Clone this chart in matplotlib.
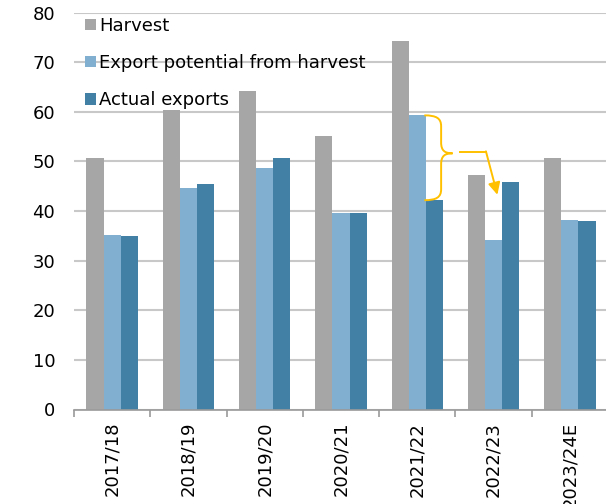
import numpy as np
import matplotlib
matplotlib.use('Agg')
import matplotlib.pyplot as plt
from matplotlib.path import Path
from matplotlib.patches import PathPatch

seasons = ['2017/18', '2018/19', '2019/20', '2020/21', '2021/22', '2022/23', '2023/24E']
harvest = [50.8, 60.3, 64.2, 55.2, 74.3, 47.2, 50.8]
export_potential = [35.1, 44.7, 48.6, 39.7, 59.3, 34.2, 38.3]
actual_exports = [35.0, 45.4, 50.8, 39.7, 42.2, 45.9, 38.0]

c_harvest = '#a6a6a6'
c_potential = '#80afcf'
c_actual = '#4380a6'
c_note = '#ffc000'
grid_c = '#c8c8c8'

plt.rcParams['font.family'] = 'DejaVu Sans'
plt.rcParams['font.size'] = 13

fig = plt.figure(figsize=(6.06, 5.04), dpi=100)
ax = fig.add_axes([74/606, (504-409.5)/504, 534/606, (409.5-12.7)/504])

x = np.arange(len(seasons))
w = 0.225
ax.bar(x - w, harvest, w, color=c_harvest, label='Harvest', zorder=3)
ax.bar(x, export_potential, w, color=c_potential, label='Export potential from harvest', zorder=3)
ax.bar(x + w, actual_exports, w, color=c_actual, label='Actual exports', zorder=3)

ax.set_xlim(-0.5, len(seasons) - 0.5)
ax.set_ylim(0, 80)
ax.set_yticks(np.arange(0, 81, 10))
ax.yaxis.grid(True, color=grid_c, linewidth=1.5, zorder=0)
ax.set_axisbelow(True)
ax.tick_params(axis='y', length=0, pad=13.5, labelsize=13)

ax.set_xticks(x)
ax.set_xticklabels(seasons, rotation=90, va='top', ha='center')
ax.set_xticks(np.arange(-0.5, len(seasons)), minor=True)
ax.tick_params(axis='x', which='major', length=0, pad=9, labelsize=13)
ax.tick_params(axis='x', which='minor', length=5, width=1.2, color='#9a9a9a')

for s in ['left', 'right', 'top']:
    ax.spines[s].set_visible(False)
ax.spines['bottom'].set_color('#9a9a9a')
ax.spines['bottom'].set_linewidth(1.2)
ax.spines['bottom'].set_zorder(4)

leg = ax.legend(loc='upper left', bbox_to_anchor=(0.01, 1.003), frameon=False,
                handlelength=0.6, handleheight=0.6, handletextpad=0.2,
                labelspacing=1.06, borderaxespad=0.0, borderpad=0.3, fontsize=13)

# curly brace spanning the gap between potential and actual exports in 2021/22
i = 4
top = export_potential[i]
bot = actual_exports[i]
mid = (top + bot) / 2 + 0.9
x0 = i + w / 2 - 0.02
xm = x0 + 0.22
xt = x0 + 0.37
r = 2.2
verts = [
    (x0, top), (x0 + 0.16, top), (xm, top - 0.6), (xm, top - r),
    (xm, mid + r),
    (xm, mid + 0.5), (xm + 0.05, mid), (xt, mid),
    (xm + 0.05, mid), (xm, mid - 0.5), (xm, mid - r),
    (xm, bot + r),
    (xm, bot + 0.6), (x0 + 0.16, bot), (x0, bot),
]
codes = [Path.MOVETO, Path.CURVE4, Path.CURVE4, Path.CURVE4,
         Path.LINETO,
         Path.CURVE4, Path.CURVE4, Path.CURVE4,
         Path.CURVE4, Path.CURVE4, Path.CURVE4,
         Path.LINETO,
         Path.CURVE4, Path.CURVE4, Path.CURVE4]
ax.add_patch(PathPatch(Path(verts, codes), facecolor='none', edgecolor=c_note,
                       linewidth=1.4, zorder=5, clip_on=False))

y_line = mid + 0.35
x_turn = 4.9
ax.plot([xt + 0.1, x_turn], [y_line, y_line], color=c_note, linewidth=1.4, zorder=5)
ax.annotate('', xy=(5.05, 43.3), xytext=(x_turn, y_line + 0.05),
            arrowprops=dict(arrowstyle='-|>', color=c_note, lw=1.4,
                            mutation_scale=18, shrinkA=0, shrinkB=0),
            zorder=5)

fig.savefig('out.png', dpi=100)
